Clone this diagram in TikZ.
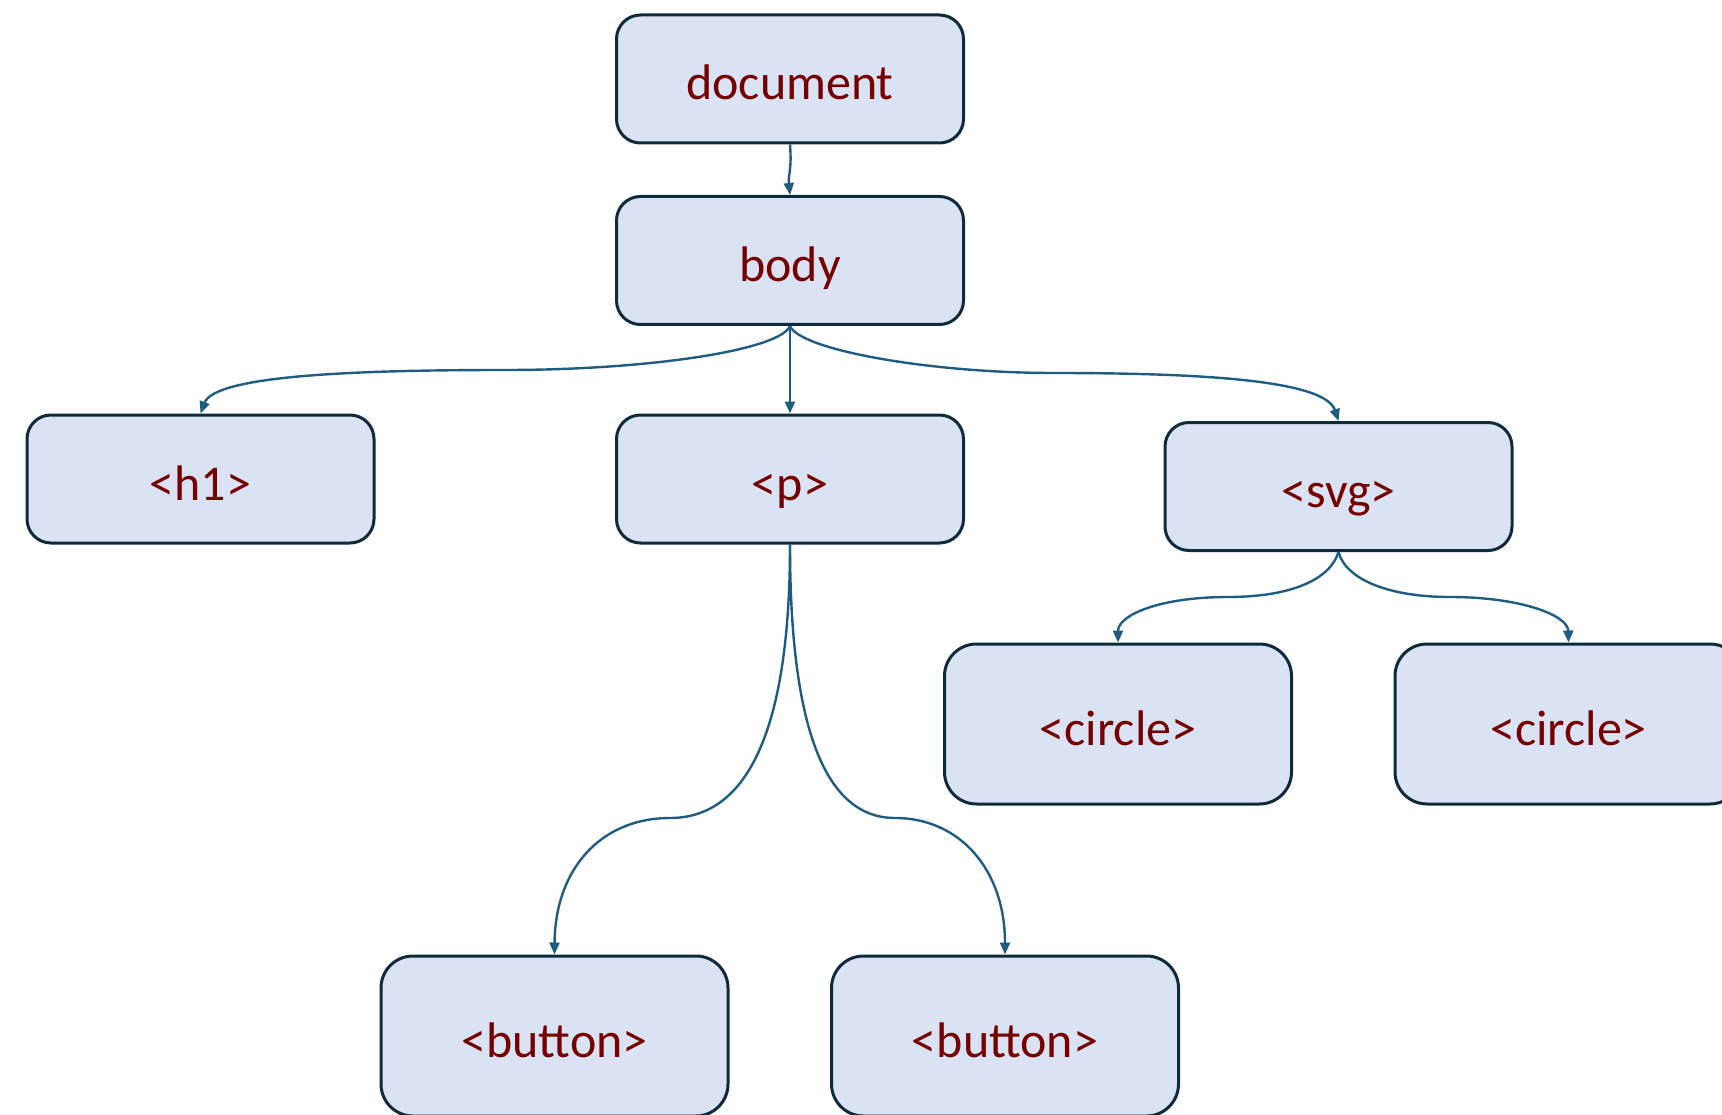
\documentclass[tikz,border=0pt]{standalone}
\usepackage{fontspec}
\setmainfont{Carlito}
\usetikzlibrary{arrows.meta}
\definecolor{boxfill}{HTML}{DAE3F3}
\definecolor{boxline}{HTML}{0E2A3B}
\definecolor{txt}{HTML}{760000}
\definecolor{arrc}{HTML}{1F5C82}
\tikzset{
  tag/.style={draw=boxline, fill=boxfill, line width=3pt, rounded corners=24pt,
    minimum width=347pt, minimum height=128pt, inner sep=0pt,
    text height=42pt, text depth=0pt,
    text=txt, font=\fontsize{50}{60}\selectfont},
  tall/.style={tag, minimum height=160pt, rounded corners=32pt},
  arr/.style={draw=arrc, line width=2.4pt, -{Triangle[length=12pt,width=10pt]}}
}
\begin{document}
\begin{tikzpicture}[x=1pt,y=-1pt]
\useasboundingbox (0,0) rectangle (1722,1115);
\clip (0,0) rectangle (1722,1115);
\node[tag] (document) at (790,79) {document};
\node[tag] (body) at (790,260.5) {body};
\node[tag] (h1) at (200.5,479) {<h1>};
\node[tag] (p) at (790,479) {<p>};
\node[tag] (svg) at (1338.5,486.5) {<svg>};
\node[tall] (circle1) at (1118,724) {<circle>};
\node[tall] (circle2) at (1568.5,724) {<circle>};
\node[tall] (button1) at (554.5,1036) {<button>};
\node[tall] (button2) at (1005,1036) {<button>};
\coordinate (mh1) at (505,370);
\coordinate (msvg) at (1054,373);
\coordinate (mb1) at (670,818);
\coordinate (mb2) at (895,818);
\coordinate (mc1) at (1228,597);
\coordinate (mc2) at (1450,597);
\draw[arr] (document.south) .. controls (792,170) and (788,175) .. (body.north);
\draw[arr] (body.south) -- (p.north);
\draw[arr] (body.south) .. controls (780,350) and (650,370) .. (mh1)
  .. controls (360,370) and (215,375) .. (h1.north);
\draw[arr] (body.south) .. controls (800,350) and (930,373) .. (msvg)
  .. controls (1200,373) and (1325,380) .. (svg.north);
\draw[arr] (p.south) .. controls (790,700) and (760,818) .. (mb1)
  .. controls (600,818) and (555,870) .. (button1.north);
\draw[arr] (p.south) .. controls (790,700) and (815,818) .. (mb2)
  .. controls (960,818) and (1005,870) .. (button2.north);
\draw[arr] (svg.south) .. controls (1330,580) and (1290,597) .. (mc1)
  .. controls (1160,597) and (1118,615) .. (circle1.north);
\draw[arr] (svg.south) .. controls (1346,580) and (1390,597) .. (mc2)
  .. controls (1520,597) and (1568,615) .. (circle2.north);
\end{tikzpicture}
\end{document}
